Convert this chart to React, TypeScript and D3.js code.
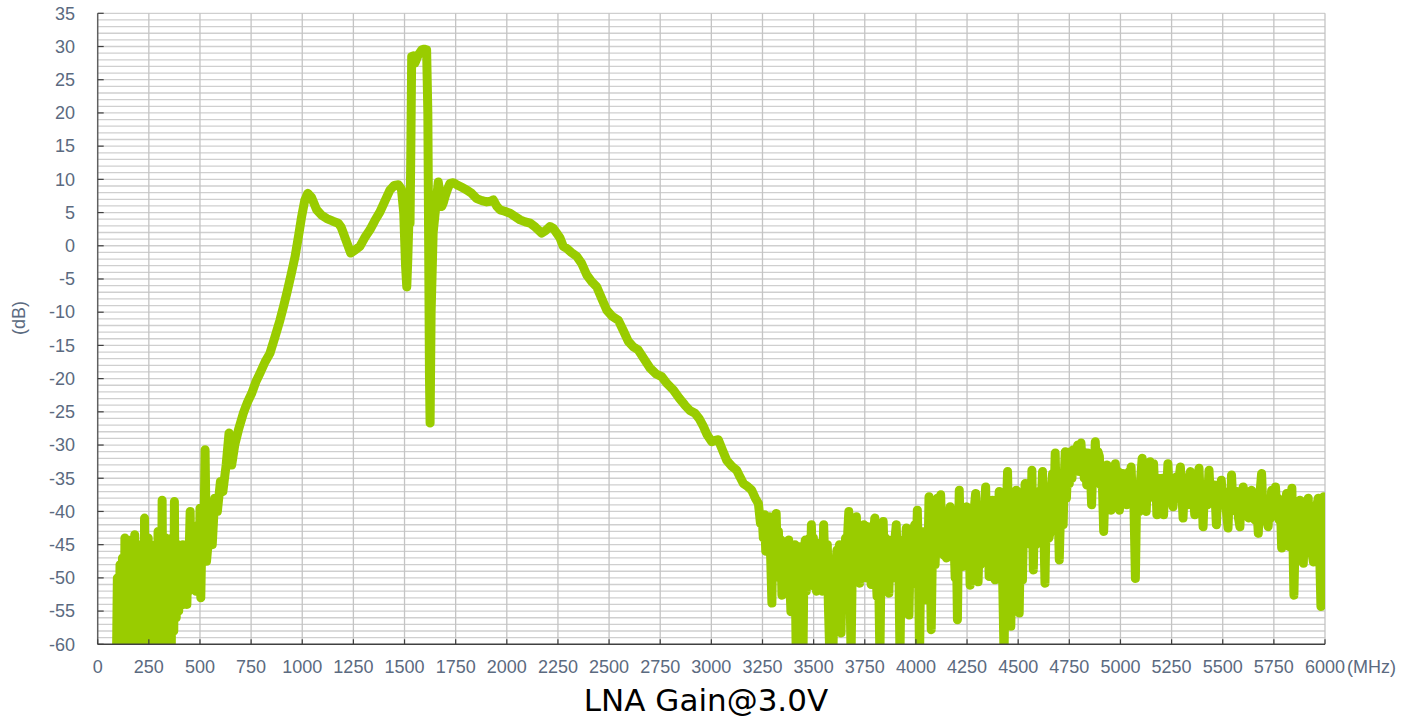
import React from "react";
import * as d3 from "d3";

// ---- data (MHz, dB) ----
const lowBandNoise: [number, number][] = [
  [92, -62], [96, -50], [100, -60], [103, -52], [106, -62], [109, -48], [112, -58], [115, -50], [118, -62],
  [121, -47], [124, -56], [127, -50], [130, -60], [133, -44], [136, -54], [139, -48], [142, -62], [145, -50],
  [148, -56], [151, -46], [154, -62], [157, -49], [160, -58], [163, -44.3], [166, -55], [169, -47], [172, -62],
  [175, -48], [178, -58], [181, -43.5], [184, -57], [187, -47], [190, -62], [193, -49], [196, -56], [199, -46],
  [202, -62], [205, -48], [208, -58], [211, -45], [214, -60], [217, -50], [220, -56], [223, -46], [226, -62],
  [229, -41], [232, -58], [235, -47], [238, -62], [241, -49], [244, -55], [247, -44], [250, -62], [253, -48],
  [256, -58], [259, -45], [262, -62], [265, -50], [268, -56], [271, -46], [274, -62], [277, -49], [280, -54],
  [283, -45], [286, -60], [289, -47], [292, -56], [295, -43], [298, -62], [301, -50], [304, -57], [307, -46],
  [311, -60], [315, -38.3], [318, -55], [321, -47], [324, -60], [327, -49], [330, -59], [333, -44], [336, -56],
  [339, -48], [342, -62], [345, -46], [348, -58], [351, -50], [354, -62], [357, -47], [360, -60], [363, -44],
  [366, -54], [369, -48], [372, -58], [375, -38.5], [378, -52], [381, -47], [384, -56], [387, -49], [390, -53],
  [393, -45], [396, -55], [400, -48], [404, -54], [408, -46], [412, -53], [416, -45], [420, -54], [424, -47],
  [428, -53.6], [432, -46], [436, -54], [440, -48], [444, -52], [448, -45], [452, -40], [456, -50], [460, -45],
  [464, -48], [468, -43], [472, -50], [476, -46], [480, -52], [484, -44], [488, -49], [492, -42], [496, -50],
  [500, -39.5], [504, -53], [508, -46], [512, -41], [516, -47], [520, -42],
];

const mainResponse: [number, number][] = [
  [525, -30.7], [532, -47.5], [545, -43], [560, -45], [572, -38], [585, -40], [600, -35.5], [612, -37],
  [628, -33], [642, -28.2], [655, -33], [670, -30], [690, -27.5], [712, -25.2], [733, -23.5], [753, -22.2],
  [773, -20.5], [793, -19.2], [818, -17.5], [842, -16.2], [866, -13.8], [891, -11.2], [908, -9.2], [924, -7.2],
  [945, -4.4], [965, -1.6], [982, 1.5], [997, 4.4], [1012, 6.8], [1027, 7.9], [1045, 7.3], [1071, 5.4],
  [1095, 4.6], [1120, 4.1], [1150, 3.7], [1176, 3.4], [1190, 2.8], [1201, 1.9], [1220, 0.3], [1237, -1.1],
  [1260, -0.6], [1282, -0.1], [1305, 1.2], [1331, 2.4], [1355, 3.8], [1380, 5.1], [1405, 6.8], [1429, 8.4],
  [1450, 9.1], [1470, 9.2], [1485, 8.5], [1496, 5], [1505, -3], [1511, -6.2], [1516, -2], [1522, 4.5],
  [1527, 3.4], [1531, 15], [1535, 28.5], [1545, 28.6], [1551, 27.5], [1565, 28.6], [1584, 29.5], [1596, 29.6],
  [1608, 29.5], [1614, 20], [1618, 0], [1622, -20], [1625, -26.7], [1630, -10], [1640, 2], [1650, 5],
  [1665, 9.6], [1672, 8], [1682, 5.9], [1690, 6.5], [1698, 7.4], [1710, 8.5], [1722, 9.4], [1738, 9.5],
  [1755, 9.2], [1780, 8.8], [1804, 8.4], [1828, 7.9], [1853, 7.1], [1878, 6.8], [1902, 6.6], [1920, 6.7],
  [1934, 6.9], [1950, 6.0], [1967, 5.4], [1990, 5.2], [2016, 4.9], [2040, 4.4], [2065, 3.9], [2090, 3.6],
  [2114, 3.4], [2140, 2.8], [2171, 1.9], [2190, 2.3], [2211, 2.9], [2228, 2.6], [2244, 1.9], [2260, 1.2],
  [2276, -0.1], [2293, -0.4], [2315, -1.0], [2342, -1.6], [2365, -2.6], [2391, -4.4], [2415, -5.4], [2440, -6.2],
  [2465, -8.0], [2489, -9.7], [2515, -10.6], [2545, -11.2], [2570, -12.8], [2594, -14.4], [2618, -15.2], [2643, -15.7],
  [2670, -17.0], [2700, -18.4], [2730, -19.3], [2757, -19.7], [2785, -20.8], [2814, -21.7], [2842, -22.9], [2871, -24.0],
  [2895, -24.8], [2920, -25.2], [2940, -26.0], [2961, -27.2], [2980, -28.5], [3002, -29.5], [3018, -29.3], [3034, -29.2],
  [3055, -30.8], [3075, -32.3], [3100, -33.2], [3124, -33.8], [3140, -34.8], [3157, -35.8], [3175, -36.2], [3197, -36.8],
  [3215, -38.0], [3230, -38.8], [3240, -41.8],
];

const highBandNoiseA: [number, number][] = [
  [3248, -40.5], [3254, -44], [3260, -40.5], [3266, -46], [3272, -41], [3278, -45], [3284, -40.8], [3290, -47],
  [3296, -53.8], [3300, -44.3], [3306, -48], [3312, -42], [3317, -40.3], [3322, -47], [3328, -43], [3334, -50],
  [3340, -44.3], [3345, -52.6], [3350, -45], [3356, -50], [3361, -44.8], [3366, -51], [3372, -46], [3378, -44.3],
  [3383, -50], [3389, -55.1], [3394, -46], [3398, -52], [3402, -49.3], [3408, -45], [3415, -62], [3420, -48],
  [3426, -53], [3431, -45.3], [3437, -55], [3442, -48], [3448, -62], [3453, -47], [3459, -44.3], [3464, -52],
  [3470, -46], [3475, -50.3], [3480, -44], [3485, -49], [3489, -42.0], [3494, -48], [3499, -44], [3503, -51.3],
  [3508, -46], [3514, -52], [3520, -45], [3525, -44.8], [3531, -50], [3537, -46], [3543, -52], [3549, -42.0],
  [3555, -48], [3562, -51.8], [3567, -45], [3572, -54], [3578, -60.5], [3583, -48], [3589, -55], [3595, -60.5],
  [3600, -50], [3606, -56], [3611, -47], [3614, -45.8], [3620, -52], [3626, -45.0], [3634, -58.3], [3640, -48],
  [3645, -53], [3650, -49.3], [3656, -44], [3662, -50], [3667, -43], [3672, -40.0], [3677, -50], [3683, -62],
  [3689, -48], [3696, -45.3], [3702, -50], [3709, -40.8], [3714, -48], [3719, -44], [3725, -50.8], [3731, -45],
  [3738, -50], [3745, -42.0], [3750, -48], [3755, -44], [3760, -50], [3765, -42.3], [3770, -47], [3776, -44],
  [3781, -51], [3786, -49.8], [3792, -44], [3799, -41.0], [3804, -48], [3810, -52.8], [3816, -46], [3824, -62],
  [3830, -47], [3836, -52], [3840, -41.5], [3846, -48], [3851, -44], [3856, -50], [3862, -44.3], [3868, -52.3],
  [3873, -45], [3878, -50], [3884, -44.3], [3889, -50], [3895, -45], [3904, -42.0], [3910, -50], [3916, -46],
  [3922, -62], [3928, -48], [3933, -53], [3938, -44.3], [3943, -50], [3948, -46], [3953, -42.5], [3960, -50],
  [3966, -55.6], [3972, -46], [3977, -51], [3982, -43.3], [3988, -49], [3994, -42], [4000, -48], [4007, -39.8],
  [4012, -47], [4018, -62], [4024, -46], [4030, -51], [4036, -48.3], [4041, -43], [4047, -53.3], [4053, -44],
  [4058, -49], [4064, -37.8], [4070, -47], [4075, -57.8], [4081, -45], [4088, -41.8], [4094, -48], [4100, -42],
  [4105, -38.0], [4110, -45], [4116, -40], [4121, -37.5], [4127, -44], [4132, -40], [4137, -46.6], [4143, -41],
  [4149, -47], [4154, -41.8], [4160, -46], [4167, -39.3], [4173, -46], [4180, -41], [4186, -44.3], [4192, -50],
  [4198, -45], [4203, -56.3], [4208, -44], [4212, -36.8], [4218, -45], [4222, -40], [4227, -48.3], [4233, -42],
  [4238, -47], [4243, -40], [4248, -39.3], [4254, -46], [4260, -42], [4265, -51.1], [4271, -45], [4278, -44.3],
  [4284, -40], [4292, -37.3], [4298, -46], [4304, -50.6], [4310, -44], [4315, -48], [4320, -43.3], [4326, -47],
  [4332, -41], [4341, -36.3], [4346, -44], [4352, -40], [4358, -49.8], [4363, -43], [4368, -47], [4374, -38.3],
  [4380, -45], [4387, -50.3], [4393, -42], [4400, -46], [4407, -37.0], [4412, -45], [4418, -44.3], [4424, -50],
  [4431, -62], [4437, -45], [4442, -40], [4448, -34.0], [4454, -44], [4459, -50], [4464, -57.3], [4470, -45],
  [4477, -41.8], [4483, -48], [4490, -36.8], [4497, -44], [4505, -55.3],
];

const highBandNoiseB: [number, number][] = [
  [4512, -42], [4521, -50.3], [4527, -40], [4534, -35.8], [4540, -44], [4546, -38], [4551, -43.8], [4557, -37],
  [4562, -45], [4567, -33.8], [4574, -48.8], [4580, -40], [4586, -45], [4590, -38], [4595, -43.8], [4601, -37],
  [4607, -44], [4613, -39], [4619, -34.0], [4625, -42], [4631, -50.8], [4637, -40], [4644, -36.3], [4650, -44],
  [4655, -43.3], [4661, -37], [4668, -34.3], [4674, -40], [4681, -31.2], [4688, -42], [4694, -38], [4701, -47.3],
  [4707, -40], [4714, -36.3], [4720, -42], [4725, -35], [4730, -31.0], [4736, -38], [4742, -33], [4750, -35.8],
  [4756, -31], [4763, -35], [4770, -30.7], [4777, -34], [4784, -31], [4791, -30.0], [4799, -34], [4807, -29.7],
  [4813, -33], [4818, -31], [4823, -35.0], [4830, -32], [4835, -36], [4840, -31.2], [4846, -35], [4852, -33],
  [4859, -39.0], [4865, -33], [4871, -35], [4877, -29.5], [4883, -34], [4890, -31], [4897, -31.7], [4903, -36],
  [4910, -34], [4918, -43.0], [4925, -36], [4934, -33.0], [4940, -37], [4947, -34], [4954, -39.8], [4960, -35],
  [4967, -38], [4975, -32.8], [4981, -37], [4988, -34], [4995, -39.8], [5001, -35], [5006, -38], [5011, -34.3],
  [5017, -38], [5023, -35], [5030, -39], [5036, -37.3], [5042, -34], [5048, -38], [5052, -33.3], [5058, -38],
  [5064, -36], [5073, -50.1], [5079, -38], [5085, -36.3], [5092, -40], [5099, -35], [5106, -32.0], [5112, -37],
  [5119, -34], [5126, -40.0], [5132, -35], [5138, -38], [5145, -32.5], [5151, -37], [5157, -35], [5162, -32.8],
  [5168, -37], [5173, -35], [5178, -40.5], [5184, -35], [5189, -38], [5194, -36.3], [5200, -40], [5206, -35],
  [5211, -40.5], [5217, -35], [5224, -38], [5232, -32.8], [5238, -37], [5245, -35], [5251, -38], [5257, -39.3],
  [5263, -35], [5268, -38], [5273, -34.8], [5280, -38], [5287, -35], [5293, -33.3], [5300, -37], [5306, -41.0],
  [5312, -36], [5317, -39], [5322, -36.3], [5328, -39], [5335, -35], [5342, -34.0], [5348, -38], [5355, -36],
  [5363, -40.5], [5370, -36], [5377, -38], [5384, -33.5], [5390, -38], [5397, -36], [5404, -42.3], [5410, -37],
  [5417, -35.8], [5425, -39], [5433, -33.8], [5440, -38], [5447, -36], [5453, -38.8], [5460, -36], [5469, -42.0],
  [5476, -37], [5484, -39], [5493, -35.3], [5500, -39], [5505, -37], [5510, -37.8], [5518, -40], [5526, -42.5],
  [5532, -37], [5538, -40], [5543, -34.5], [5550, -39], [5557, -37], [5564, -39.3], [5570, -37], [5577, -41],
  [5584, -42.3], [5590, -37], [5595, -40], [5600, -36.3], [5607, -40], [5614, -37], [5620, -38.8], [5627, -41],
  [5634, -37], [5641, -36.8], [5648, -40], [5657, -41.3], [5664, -38], [5674, -43.3], [5680, -38], [5690, -34.3],
  [5697, -40], [5706, -38.8], [5713, -41], [5722, -42.3], [5728, -38], [5734, -41], [5739, -36.8], [5746, -40],
  [5752, -38], [5758, -36.3], [5764, -40], [5770, -38], [5776, -41.3], [5782, -39], [5788, -45.5], [5795, -40],
  [5803, -43], [5812, -37.3], [5818, -42], [5825, -45.3], [5831, -40], [5838, -36.5], [5843, -44], [5848, -52.6],
  [5854, -44], [5861, -41.3], [5866, -46], [5871, -40], [5877, -38.3], [5883, -44], [5889, -40], [5894, -47.8],
  [5900, -41], [5906, -45], [5912, -39], [5918, -38.0], [5924, -44], [5930, -41], [5936, -46], [5943, -47.6],
  [5949, -40], [5955, -44], [5961, -39], [5967, -38.0], [5973, -45], [5980, -54.3], [5986, -42], [5993, -37.8],
  [6000, -54.0],
];

const xTicks = d3.range(0, 6001, 250);
const yTicks = d3.range(-60, 36, 5);
const yMinor = d3.range(-59, 36, 1);

const W = 1418;
const H = 720;
const TEXT = "#5b6a80";
const GREEN = "#99cc00";
const FONT = "'Liberation Sans', Arial, sans-serif";

export default function App() {
  const x = d3.scaleLinear().domain([0, 6000]).range([97.7, 1325]);
  const y = d3.scaleLinear().domain([-60, 35]).range([644.3, 13.3]);
  const data = [...lowBandNoise, ...mainResponse, ...highBandNoiseA, ...highBandNoiseB];
  const line = d3
    .line<[number, number]>()
    .x((d) => x(d[0]))
    .y((d) => y(d[1]));
  const [x0, x1] = x.range();
  const [yb, yt] = y.range();

  return (
    <svg
      width={W}
      height={H}
      style={{ position: "absolute", left: 0, top: 0, display: "block", background: "#fff" }}
    >
      <defs>
        <clipPath id="plot">
          <rect x={x0 - 10} y={yt - 10} width={x1 - x0 + 10} height={yb - yt + 10} />
        </clipPath>
      </defs>
      {yMinor.map((v) => (
        <line key={"h" + v} x1={x0} x2={x1} y1={y(v)} y2={y(v)} stroke="#cfcfcf" strokeWidth={1.3} />
      ))}
      {xTicks.slice(1).map((v) => (
        <line key={"v" + v} x1={x(v)} x2={x(v)} y1={yt} y2={yb} stroke="#c4c4c4" strokeWidth={1.3} />
      ))}
      <path
        d={line(data) || ""}
        fill="none"
        stroke={GREEN}
        strokeWidth={9}
        strokeLinejoin="round"
        strokeLinecap="round"
        clipPath="url(#plot)"
      />
      <line x1={x0} x2={x0} y1={yt} y2={yb} stroke="#5f5f5f" strokeWidth={1.5} />
      <line x1={x0} x2={x1} y1={yb} y2={yb} stroke="#404040" strokeWidth={1.5} />
      {yTicks.map((v) => (
        <line key={"yt" + v} x1={x0} x2={x0 + 6} y1={y(v)} y2={y(v)} stroke="#404040" strokeWidth={1.2} />
      ))}
      {xTicks.map((v) => (
        <line key={"xt" + v} x1={x(v)} x2={x(v)} y1={yb} y2={yb - 5} stroke="#404040" strokeWidth={1.2} />
      ))}
      {yTicks.map((v) => (
        <text key={"yl" + v} x={75} y={y(v)} dy="0.35em" textAnchor="end" fontFamily={FONT} fontSize={18} fill={TEXT}>
          {v}
        </text>
      ))}
      {xTicks.map((v) => (
        <text key={"xl" + v} x={x(v)} y={667} dy="0.35em" textAnchor="middle" fontFamily={FONT} fontSize={18} fill={TEXT}>
          {v}
        </text>
      ))}
      <text x={1347} y={667} dy="0.35em" fontFamily={FONT} fontSize={18} fill={TEXT}>
        (MHz)
      </text>
      <text
        transform={`translate(19,${318}) rotate(-90)`}
        textAnchor="middle"
        dy="0.35em"
        fontFamily={FONT}
        fontSize={18}
        fill={TEXT}
      >
        (dB)
      </text>
      <text
        x={706}
        y={700}
        dy="0.35em"
        textAnchor="middle"
        fontFamily="'DejaVu Sans', Verdana, sans-serif"
        fontSize={31}
        fill="#000"
      >
        LNA Gain@3.0V
      </text>
    </svg>
  );
}
